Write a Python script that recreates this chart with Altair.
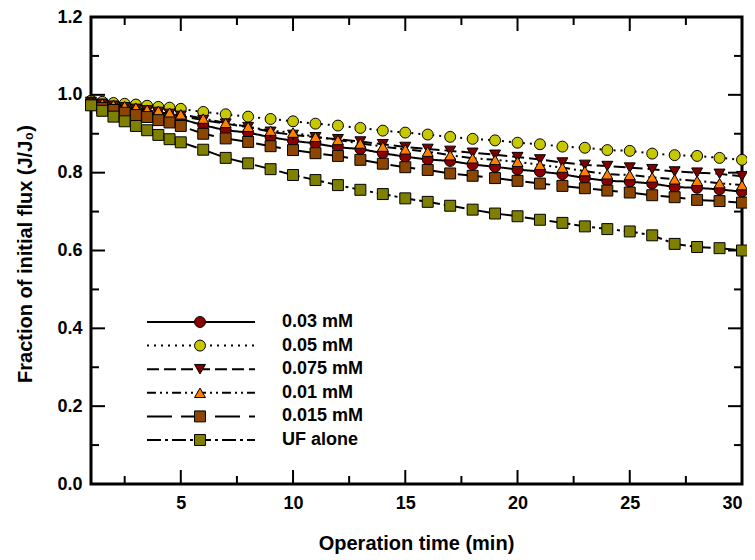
import altair as alt
import pandas as pd

times = [1, 1.5, 2, 2.5, 3, 3.5, 4, 4.5, 5,
         6, 7, 8, 9, 10, 11, 12, 13, 14, 15, 16, 17, 18, 19, 20,
         21, 22, 23, 24, 25, 26, 27, 28, 29, 30]

series_names = ["0.03 mM", "0.05 mM", "0.075 mM", "0.01 mM", "0.015 mM", "UF alone"]

v_003 = [0.975, 0.968, 0.962, 0.959, 0.956, 0.952, 0.948, 0.943, 0.938,
         0.922, 0.909, 0.903, 0.891, 0.882, 0.875, 0.865, 0.861, 0.850, 0.841,
         0.834, 0.830, 0.821, 0.815, 0.808, 0.803, 0.796, 0.786, 0.779, 0.777,
         0.772, 0.763, 0.761, 0.757, 0.751]
v_005 = [0.985, 0.982, 0.979, 0.977, 0.975, 0.972, 0.969, 0.967, 0.964,
         0.956, 0.950, 0.944, 0.938, 0.932, 0.926, 0.921, 0.915, 0.908, 0.903,
         0.898, 0.892, 0.887, 0.883, 0.877, 0.873, 0.867, 0.864, 0.858, 0.856,
         0.849, 0.845, 0.843, 0.838, 0.833]
v_0075 = [0.982, 0.977, 0.972, 0.968, 0.964, 0.960, 0.956, 0.951, 0.946,
          0.935, 0.926, 0.917, 0.905, 0.897, 0.891, 0.886, 0.880, 0.873, 0.866,
          0.861, 0.856, 0.851, 0.846, 0.840, 0.834, 0.826, 0.820, 0.817, 0.813,
          0.809, 0.803, 0.800, 0.797, 0.791]
v_001 = [0.983, 0.978, 0.974, 0.971, 0.967, 0.962, 0.959, 0.954, 0.950,
         0.939, 0.928, 0.918, 0.908, 0.903, 0.892, 0.884, 0.875, 0.867, 0.860,
         0.854, 0.845, 0.837, 0.833, 0.828, 0.820, 0.813, 0.804, 0.796, 0.794,
         0.788, 0.783, 0.779, 0.773, 0.768]
v_0015 = [0.975, 0.966, 0.961, 0.954, 0.948, 0.943, 0.935, 0.929, 0.920,
          0.900, 0.888, 0.879, 0.868, 0.858, 0.850, 0.843, 0.833, 0.823, 0.814,
          0.807, 0.798, 0.792, 0.786, 0.779, 0.772, 0.766, 0.760, 0.754, 0.749,
          0.742, 0.737, 0.730, 0.727, 0.723]
v_uf = [0.973, 0.959, 0.944, 0.932, 0.920, 0.909, 0.897, 0.886, 0.878,
        0.859, 0.838, 0.824, 0.809, 0.794, 0.781, 0.768, 0.756, 0.745, 0.734,
        0.725, 0.715, 0.705, 0.695, 0.688, 0.679, 0.671, 0.662, 0.655, 0.649,
        0.639, 0.617, 0.609, 0.606, 0.600]

series_values = [v_003, v_005, v_0075, v_001, v_0015, v_uf]
colors = ["#8b0000", "#c8c800", "#800000", "#ff8000", "#8c4600", "#808000"]
shapes = ["circle", "circle", "triangle-down", "triangle-up", "square", "square"]
dashes = [[1, 0], [2, 5], [12, 5], [9, 4, 2, 4, 2, 4], [25, 9], [14, 4, 3, 4]]

x_major = [5, 10, 15, 20, 25, 30]
x_minor = [2.5, 7.5, 12.5, 17.5, 22.5, 27.5]
y_major = [0.0, 0.2, 0.4, 0.6, 0.8, 1.0, 1.2]
y_minor = [0.1, 0.3, 0.5, 0.7, 0.9, 1.1]

W, H = 651, 467
FONT = "Liberation Sans"

x_enc = alt.X("t:Q",
              scale=alt.Scale(domain=[1, 30], nice=False, zero=False),
              axis=alt.Axis(values=x_major, title="Operation time (min)",
                            labelPadding=10, titleX=325, titleY=65,
                            titleBaseline="alphabetic", titleAnchor="middle"))
y_enc = alt.Y("v:Q",
              scale=alt.Scale(domain=[0, 1.2], nice=False, zero=False),
              axis=alt.Axis(values=y_major, format=".1f",
                            title="Fraction of initial flux (J/J\u2080)",
                            labelPadding=9, titleX=-66, titleY=H / 2 + 3,
                            titleAngle=-90, titleBaseline="middle",
                            titleAlign="center"))

layers = []

# custom inward ticks
def xticks(vals, length):
    d = pd.DataFrame({"t": vals})
    bot = alt.Chart(d).mark_rule(color="black", strokeWidth=2).encode(
        x=x_enc, y=alt.value(H), y2=alt.value(H - length))
    top = alt.Chart(d).mark_rule(color="black", strokeWidth=2).encode(
        x=x_enc, y=alt.value(0), y2=alt.value(length))
    return [bot, top]

def yticks(vals, length):
    d = pd.DataFrame({"v": vals})
    left = alt.Chart(d).mark_rule(color="black", strokeWidth=2).encode(
        y=y_enc, x=alt.value(0), x2=alt.value(length))
    right = alt.Chart(d).mark_rule(color="black", strokeWidth=2).encode(
        y=y_enc, x=alt.value(W), x2=alt.value(W - length))
    return [left, right]

layers += xticks(x_major, 14) + xticks(x_minor, 8)
layers += yticks(y_major, 14) + yticks(y_minor, 8)

for name, vals, col, shp, dash in zip(series_names, series_values, colors, shapes, dashes):
    d = pd.DataFrame({"t": times, "v": vals})
    line = alt.Chart(d).mark_line(color="black", strokeWidth=2, strokeDash=dash).encode(
        x=x_enc, y=y_enc)
    pts = alt.Chart(d).mark_point(shape=shp, filled=True, size=120, fill=col,
                                  stroke="black", strokeWidth=1, opacity=1,
                                  fillOpacity=1).encode(x=x_enc, y=y_enc)
    layers += [line, pts]

# legend
one = pd.DataFrame({"a": [0]})
row0, row_step = 305, 23.6
for i, (name, col, shp, dash) in enumerate(zip(series_names, colors, shapes, dashes)):
    ry = row0 + i * row_step
    layers.append(alt.Chart(one).mark_rule(color="black", strokeWidth=2, strokeDash=dash).encode(
        x=alt.value(56), x2=alt.value(164), y=alt.value(ry)))
    layers.append(alt.Chart(one).mark_point(shape=shp, filled=True, size=120, fill=col,
                                            stroke="black", strokeWidth=1, opacity=1,
                                            fillOpacity=1).encode(
        x=alt.value(109), y=alt.value(ry)))
    layers.append(alt.Chart(one).mark_text(text=name, font=FONT, fontWeight="bold",
                                           fontSize=18, align="left", baseline="middle",
                                           color="black").encode(
        x=alt.value(191), y=alt.value(ry)))

chart = alt.layer(*layers).properties(
    width=W, height=H,
    autosize=alt.AutoSizeParams(type="none"),
    padding={"left": 83, "top": 9, "right": 5, "bottom": 72},
).configure_view(
    stroke="black", strokeWidth=3
).configure_axis(
    domain=False, ticks=False, tickSize=0, grid=False,
    labelFont=FONT, labelFontSize=18, labelFontWeight="bold", labelColor="black",
    titleFont=FONT, titleFontSize=20, titleFontWeight="bold", titleColor="black",
)

chart.save("out.html", embed_options={"renderer": "svg", "actions": False})
